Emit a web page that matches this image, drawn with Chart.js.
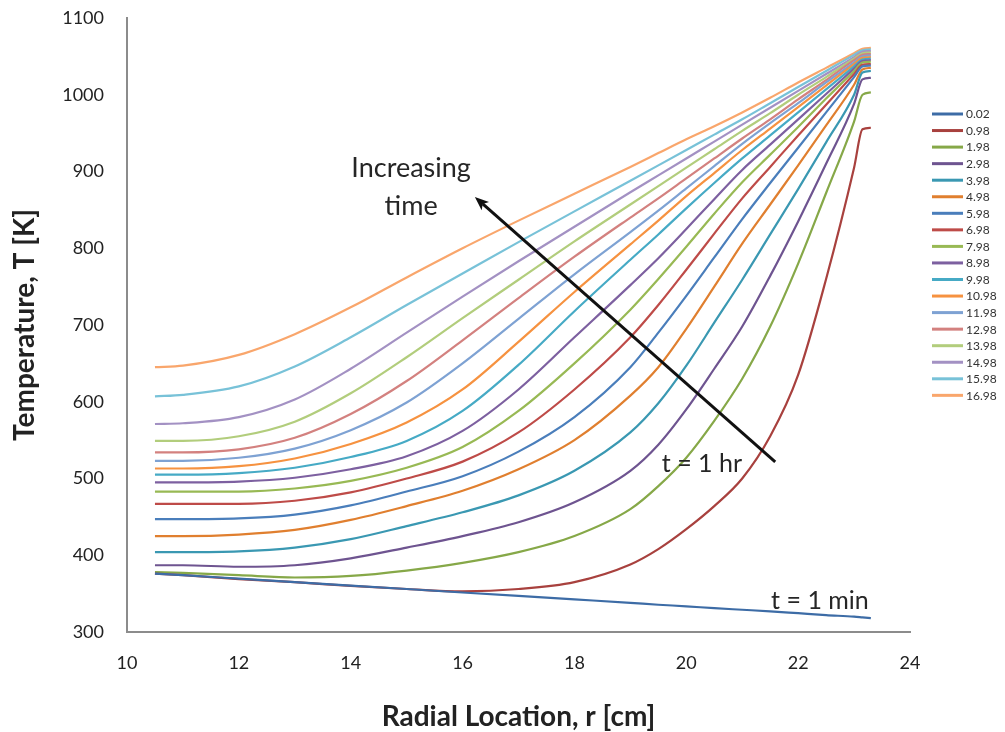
<!DOCTYPE html>
<html>
<head>
<meta charset="utf-8">
<script src="https://cdn.jsdelivr.net/npm/chart.js@4.4.0/dist/chart.umd.min.js"></script>
<style>
  html, body { margin: 0; padding: 0; background: #ffffff; }
  #wrap { width: 1005px; height: 732px; position: relative; }
</style>
</head>
<body>
<div id="wrap"><canvas id="chart" width="1005" height="732"></canvas></div>
<script>
// Radial positions [cm] at which the temperature profiles are tabulated
const radius = [10.5, 11, 12, 13, 14, 15, 16, 17, 18, 19, 19.5, 20, 20.5, 21, 21.5, 22, 22.5, 23, 23.15, 23.3];

// Legend labels: elapsed time of each profile
const timeLabels = ['0.02', '0.98', '1.98', '2.98', '3.98', '4.98', '5.98', '6.98', '7.98',
                    '8.98', '9.98', '10.98', '11.98', '12.98', '13.98', '14.98', '15.98', '16.98'];

// Temperature profiles T(r) [K], one array per time
const t0_02  = [376, 374, 369.5, 365, 360.5, 356, 351.5, 347, 342.5, 338, 335.5, 333.5, 331, 329, 327, 324.5, 322, 320, 319, 318];
const t0_98  = [376, 374, 369, 365, 360, 356, 353, 356, 365, 388, 408, 434, 464, 500, 555, 635, 760, 905, 955, 957];
const t1_98  = [378, 377, 374, 371, 373, 380, 390, 404, 425, 460, 490, 527, 575, 630, 698, 780, 872, 965, 1000, 1003];
const t2_98  = [387, 387, 385, 387, 396, 410, 425, 443, 469, 510, 544, 590, 643, 698, 764, 835, 910, 988, 1020, 1022];
const t3_98  = [404, 404, 405, 410, 421, 438, 456, 478, 510, 560, 598, 647, 703, 759, 818, 877, 938, 1000, 1029, 1031];
const t4_98  = [425, 425, 427, 433, 446, 464, 484, 512, 550, 608, 645, 695, 750, 806, 857, 908, 960, 1013, 1033, 1035];
const t5_98  = [447, 447, 448, 453, 465, 483, 503, 535, 580, 645, 690, 738, 788, 838, 885, 931, 977, 1023, 1037, 1038];
const t6_98  = [467, 467, 467, 471, 482, 500, 522, 560, 616, 684, 726, 772, 819, 865, 906, 947, 987, 1027, 1039, 1040];
const t7_98  = [483, 483, 483, 487, 497, 514, 541, 588, 650, 720, 760, 802, 845, 886, 922, 958, 995, 1031, 1042, 1043];
const t8_98  = [495, 495, 496, 501, 512, 529, 562, 616, 684, 752, 787, 825, 864, 902, 935, 968, 1001, 1034, 1044, 1045];
const t9_98  = [505, 505, 507, 514, 528, 549, 588, 648, 718, 785, 818, 852, 885, 917, 947, 977, 1007, 1037, 1046, 1047];
const t10_98 = [513, 513, 516, 526, 545, 573, 616, 678, 743, 805, 836, 868, 898, 928, 956, 984, 1012, 1040, 1048, 1049];
const t11_98 = [523, 523, 527, 539, 563, 599, 650, 708, 766, 821, 849, 878, 907, 936, 963, 989, 1016, 1042, 1050, 1051];
const t12_98 = [534, 534, 538, 553, 584, 627, 680, 735, 789, 840, 865, 891, 917, 943, 968, 994, 1019, 1045, 1052, 1053];
const t13_98 = [549, 549, 555, 574, 611, 658, 709, 759, 809, 857, 881, 905, 929, 953, 976, 1000, 1023, 1047, 1054, 1055];
const t14_98 = [571, 572, 580, 603, 643, 690, 737, 783, 828, 873, 895, 917, 939, 961, 983, 1005, 1027, 1049, 1056, 1057];
const t15_98 = [607, 609, 620, 646, 684, 726, 767, 808, 848, 888, 908, 928, 948, 968, 989, 1010, 1031, 1052, 1058, 1059];
const t16_98 = [645, 647, 661, 688, 723, 762, 800, 836, 871, 906, 924, 942, 959, 977, 996, 1016, 1035, 1054, 1060, 1061];

// Axis tick values
const xTicks = [10, 12, 14, 16, 18, 20, 22, 24];
const yTicks = [300, 400, 500, 600, 700, 800, 900, 1000, 1100];

const profiles = [t0_02, t0_98, t1_98, t2_98, t3_98, t4_98, t5_98, t6_98, t7_98,
                  t8_98, t9_98, t10_98, t11_98, t12_98, t13_98, t14_98, t15_98, t16_98];

const lineColors = [
  '#3d6ca6', '#a8413e', '#86a848', '#6e5490', '#3a98b2', '#e07f2f',
  '#4a7ebb', '#be4b48', '#98b954', '#7d60a0', '#46aac5', '#f69240',
  '#7ea2d3', '#d3817f', '#b2cd7c', '#a391c3', '#78c2d8', '#f9a66c'
];

const datasets = profiles.map((vals, i) => ({
  label: timeLabels[i],
  data: radius.map((r, k) => ({ x: r, y: vals[k] })),
  borderColor: lineColors[i],
  backgroundColor: lineColors[i],
  borderWidth: 2.2,
  pointRadius: 0,
  fill: false,
  cubicInterpolationMode: 'monotone'
}));

const FONT = 'Lato, "Open Sans", sans-serif';

// Notes, arrow and legend drawn on top of the plot
const notesPlugin = {
  id: 'notes',
  afterDatasetsDraw(chart) {
    const { ctx, scales: { x, y } } = chart;
    ctx.save();

    // "Increasing time" arrow
    const x0 = x.getPixelForValue(21.59), y0 = y.getPixelForValue(521.5);
    const x1 = x.getPixelForValue(16.22), y1 = y.getPixelForValue(866.8);
    const ang = Math.atan2(y1 - y0, x1 - x0);
    const head = 15;
    ctx.strokeStyle = '#111111';
    ctx.fillStyle = '#111111';
    ctx.lineWidth = 3;
    ctx.beginPath();
    ctx.moveTo(x0, y0);
    ctx.lineTo(x1 - Math.cos(ang) * head * 0.7, y1 - Math.sin(ang) * head * 0.7);
    ctx.stroke();
    ctx.beginPath();
    ctx.moveTo(x1, y1);
    ctx.lineTo(x1 - head * Math.cos(ang - 0.38), y1 - head * Math.sin(ang - 0.38));
    ctx.lineTo(x1 - head * 0.7 * Math.cos(ang), y1 - head * 0.7 * Math.sin(ang));
    ctx.lineTo(x1 - head * Math.cos(ang + 0.38), y1 - head * Math.sin(ang + 0.38));
    ctx.closePath();
    ctx.fill();

    // text notes
    ctx.fillStyle = '#262626';
    ctx.textAlign = 'center';
    ctx.textBaseline = 'middle';
    ctx.font = '27px ' + FONT;
    ctx.fillText('Increasing', x.getPixelForValue(15.08), y.getPixelForValue(904.6));
    ctx.fillText('time', x.getPixelForValue(15.08), y.getPixelForValue(855));
    ctx.font = '25px ' + FONT;
    ctx.fillText('t = 1 hr', x.getPixelForValue(20.28), y.getPixelForValue(519));
    ctx.fillText('t = 1 min', x.getPixelForValue(22.39), y.getPixelForValue(340));

    ctx.restore();
  },
  afterDraw(chart) {
    const { ctx } = chart;
    ctx.save();
    ctx.font = '12px ' + FONT;
    ctx.textBaseline = 'middle';
    ctx.textAlign = 'left';
    chart.data.datasets.forEach((ds, i) => {
      const yy = 114 + i * 16.55;
      ctx.strokeStyle = ds.borderColor;
      ctx.lineWidth = 3;
      ctx.beginPath();
      ctx.moveTo(932, yy);
      ctx.lineTo(963, yy);
      ctx.stroke();
      ctx.fillStyle = '#333333';
      ctx.fillText(ds.label, 966, yy + 0.5);
    });
    ctx.restore();
  }
};

const axisColor = '#8c8c8c';
const tickFont = { family: FONT, size: 18 };
const titleFont = { family: FONT, size: 28, weight: 'bold', lineHeight: 1 };

new Chart(document.getElementById('chart'), {
  type: 'line',
  data: { datasets },
  plugins: [notesPlugin],
  options: {
    responsive: false,
    animation: false,
    devicePixelRatio: 1,
    layout: { padding: { top: 18, right: 95, left: 0, bottom: 0 } },
    plugins: { legend: { display: false }, tooltip: { enabled: false } },
    scales: {
      x: {
        type: 'linear',
        min: 10, max: 24,
        afterBuildTicks: (s) => { s.ticks = xTicks.map(v => ({ value: v })); },
        afterFit: (s) => { s.height = 100; s.paddingLeft = 0; s.paddingRight = 0; },
        grid: { display: false, drawTicks: false },
        border: { display: true, color: axisColor, width: 2 },
        ticks: { color: '#222222', font: tickFont, padding: 20, maxRotation: 0,
                 callback: (v) => String(v) },
        title: {
          display: true, text: 'Radial Location, r [cm]', color: '#222222',
          font: titleFont,
          padding: { top: 0, bottom: 1 }
        }
      },
      y: {
        type: 'linear',
        min: 300, max: 1100,
        afterBuildTicks: (s) => { s.ticks = yTicks.map(v => ({ value: v })); },
        afterFit: (s) => { s.width = 127; s.paddingTop = 0; s.paddingBottom = 0; },
        grid: { display: false, drawTicks: false },
        border: { display: true, color: axisColor, width: 2 },
        ticks: { color: '#222222', font: tickFont, padding: 23,
                 callback: (v) => String(v) },
        title: {
          display: true, text: 'Temperature, T [K]', color: '#222222',
          font: titleFont,
          padding: { top: 11, bottom: 0 }
        }
      }
    }
  }
});
</script>
</body>
</html>
